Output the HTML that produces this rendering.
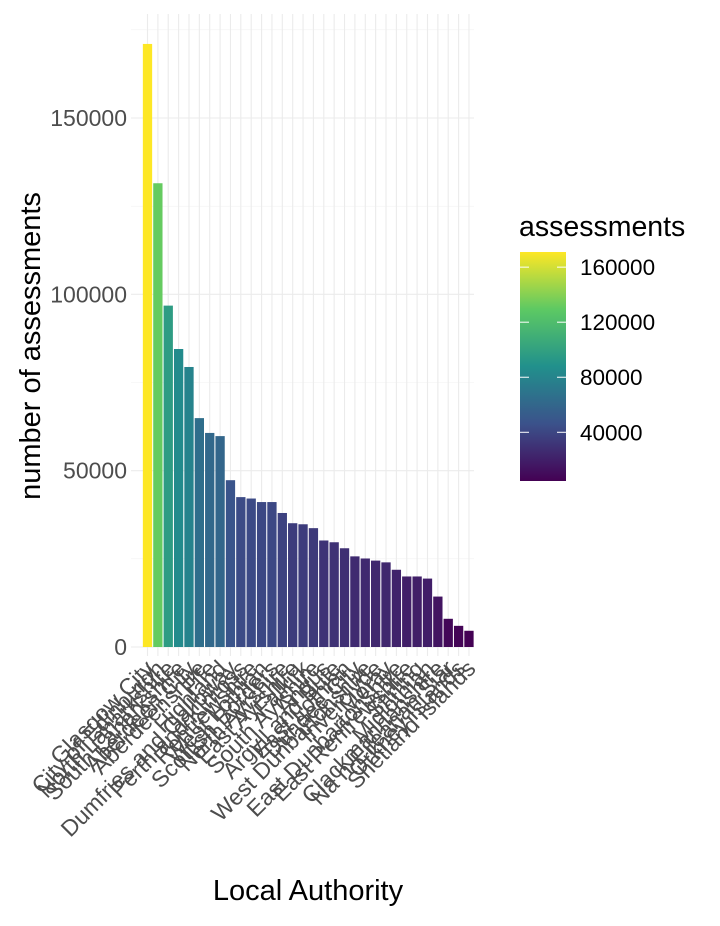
<!DOCTYPE html>
<html><head><meta charset="utf-8"><style>
body{margin:0;background:#fff;font-family:"Liberation Sans",Arial,sans-serif}
</style></head><body>
<svg id="chart" width="720" height="921" xmlns="http://www.w3.org/2000/svg">
<defs><linearGradient id="vir" x1="0" y1="1" x2="0" y2="0">
<stop offset="0" stop-color="#440154"/><stop offset="0.25" stop-color="#3b528b"/><stop offset="0.5" stop-color="#21908c"/><stop offset="0.75" stop-color="#5dc963"/><stop offset="1" stop-color="#fde725"/></linearGradient></defs>
<g id="grid"></g>
<g id="bars"></g>
<g id="yticks"></g>
<g id="xticks"></g>
<text transform="translate(40,346) rotate(-90)" text-anchor="middle" font-size="29" fill="#000">number of assessments</text>
<text x="308" y="900" text-anchor="middle" font-size="29" fill="#000">Local Authority</text>
<g>
<text x="519" y="236" font-size="28.5" fill="#000">assessments</text>
<rect x="520" y="252" width="46" height="229" fill="url(#vir)"/>
<g id="legticks"></g>
</g>
</svg>
<script>
const categories=["Glasgow City","City of Edinburgh","North Lanarkshire","South Lanarkshire","Aberdeen City","Aberdeenshire","Fife","Highland","Dumfries and Galloway","Perth and Kinross","Renfrewshire","West Lothian","Scottish Borders","North Ayrshire","East Ayrshire","Falkirk","South Ayrshire","Angus","Argyll and Bute","East Lothian","Dundee City","West Dunbartonshire","Inverclyde","Moray","East Dunbartonshire","East Renfrewshire","Stirling","Midlothian","Clackmannanshire","Na h-Eileanan Siar","Orkney Islands","Shetland Islands"];
const values=[171000,131500,96800,84500,79400,64900,60700,59800,47300,42500,42100,41100,41100,38000,35100,34800,33700,30200,29700,28000,25700,25100,24500,24000,21900,20000,20000,19400,14300,8000,6000,4600];
const yTicks=[0,50000,100000,150000];
const legendTicks=[40000,80000,120000,160000];
const NS="http://www.w3.org/2000/svg";
const y0=647,pxPer=529/150000,x0=147.5,step=10.37,bw=9.3;
const ys=v=>y0-v*pxPer, xs=i=>x0+i*step;
const cmin=4600,cmax=171000,lyTop=252,lyBot=481;
const ly=v=>lyBot-(v-cmin)/(cmax-cmin)*(lyBot-lyTop);
const stops=[[68,1,84],[59,82,139],[33,144,140],[93,201,99],[253,231,37]];
function col(v){let t=(v-cmin)/(cmax-cmin)*4;let i=Math.min(3,Math.floor(t));let f=t-i;const a=stops[i],b=stops[i+1];return `rgb(${a.map((c,k)=>Math.round(c+(b[k]-c)*f)).join(',')})`;}
function mk(tag,attrs,parent){const e=document.createElementNS(NS,tag);for(const k in attrs)e.setAttribute(k,attrs[k]);parent.appendChild(e);return e;}
const grid=document.getElementById('grid');
for(let v=25000;v<=175000;v+=50000){const l=mk('line',{x1:131,x2:474,y1:ys(v),y2:ys(v),stroke:'#f2f2f2','stroke-width':0.6},grid);}
yTicks.forEach(v=>{const l=mk('line',{x1:131,x2:474,y1:ys(v),y2:ys(v),stroke:'#ebebeb','stroke-width':1.1},grid);});
categories.forEach((c,i)=>{const l=mk('line',{x1:xs(i),x2:xs(i),y1:14,y2:656,stroke:'#ebebeb','stroke-width':1.1},grid);});
const bars=document.getElementById('bars');
values.forEach((v,i)=>{const r=mk('rect',{x:xs(i)-bw/2,y:ys(v),width:bw,height:v*pxPer,fill:col(v)},bars);});
const yt=document.getElementById('yticks');
yTicks.forEach(v=>{const t=mk('text',{x:127,y:ys(v)+8,'text-anchor':'end','font-size':23,fill:'#4d4d4d'},yt);t.textContent=v;});
const xt=document.getElementById('xticks');
categories.forEach((c,i)=>{const t=mk('text',{transform:`translate(${xs(i)+8},670) rotate(-45)`,'text-anchor':'end','font-size':23,fill:'#4d4d4d'},xt);t.textContent=c;});
const lg=document.getElementById('legticks');
legendTicks.forEach(v=>{const y=ly(v);
mk('line',{x1:520,x2:529,y1:y,y2:y,stroke:'#fff','stroke-width':1},lg);
mk('line',{x1:557,x2:566,y1:y,y2:y,stroke:'#fff','stroke-width':1},lg);
const t=mk('text',{x:580,y:y+8,'font-size':22.5,fill:'#000'},lg);t.textContent=v;});
</script>
</body></html>
